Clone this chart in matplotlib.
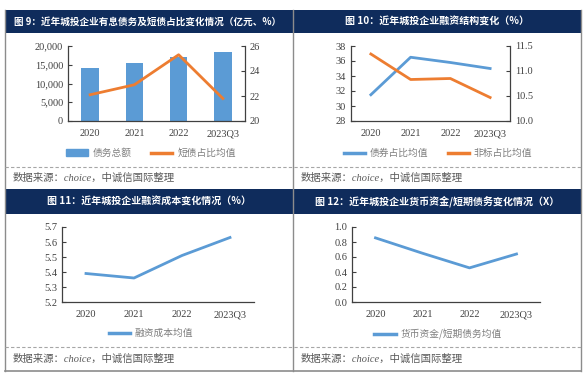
import matplotlib
matplotlib.use("Agg")
import matplotlib.pyplot as plt
from matplotlib.patches import Rectangle, Patch
from matplotlib.lines import Line2D
from matplotlib.ticker import FuncFormatter
import numpy as np
import logging
logging.getLogger("matplotlib.font_manager").setLevel(logging.ERROR)

W, H = 587, 380

categories = ["2020", "2021", "2022", "2023Q3"]
debt_total = [14200, 15400, 17000, 18400]
short_debt_ratio = [22.1, 22.9, 25.3, 21.8]
bond_ratio = [31.5, 36.5, 35.8, 35.0]
nonstd_ratio = [11.34, 10.83, 10.85, 10.47]
financing_cost = [5.39, 5.36, 5.51, 5.63]
cash_to_short = [0.855, 0.65, 0.455, 0.64]

titles = [
    "图 9：近年城投企业有息债务及短债占比变化情况（亿元、%）",
    "图 10：近年城投企业融资结构变化（%）",
    "图 11：近年城投企业融资成本变化情况（%）",
    "图 12：近年城投企业货币资金/短期债务变化情况（X）",
]
source = "数据来源：choice，中诚信国际整理"

NAVY = "#0f2c5c"
BLUE = "#5b9bd5"
ORANGE = "#ed7d31"
TXT = "#404040"
CJK = ["Noto Sans CJK SC", "DejaVu Sans"]
SERIF = ["Liberation Serif", "DejaVu Serif"]

fig = plt.figure(figsize=(W / 100, H / 100), dpi=100)
fig.patch.set_facecolor("white")

bg = fig.add_axes([0, 0, 1, 1], zorder=0)
bg.set_xlim(0, W)
bg.set_ylim(H, 0)
bg.axis("off")

# frames
bars_y = [(10, 33), (189, 214)]
for (y0, y1) in bars_y:
    bg.add_patch(Rectangle((5, y0), 576, y1 - y0, color=NAVY, lw=0))
for xx in (5, 293, 581):
    bg.plot([xx, xx], [10, 371], color="#8c8c8c", lw=1.0)
bg.plot([5, 581], [371, 371], color="#8c8c8c", lw=1.2)
for y in (167, 347):
    bg.plot([5, 581], [y, y], color="#a6a6a6", lw=0.8, ls=(0, (3, 2)))

# titles
centers = [(148, 21.5), (437, 21.5), (149, 201.5), (437, 201.5)]
sizes = [6.9, 7.2, 7.2, 7.2]
for t, (cx, cy), fs in zip(titles, centers, sizes):
    bg.text(cx, cy, t, color="white", fontsize=fs, fontweight="bold",
            family=CJK, ha="center", va="center")
for sx, sy in [(13, 178), (301, 178), (13, 359), (301, 359)]:
    bg.text(sx, sy, source, color="#595959", fontsize=7.5, style="italic",
            family=["Liberation Serif", "Noto Sans CJK SC"], ha="left", va="center")


def rect(x0, y0, x1, y1):
    return [x0 / W, 1 - y1 / H, (x1 - x0) / W, (y1 - y0) / H]


def style(ax):
    for s in ["top", "right"]:
        ax.spines[s].set_visible(False)
    for s in ["left", "bottom"]:
        ax.spines[s].set_color("#404040")
        ax.spines[s].set_linewidth(0.9)
    ax.tick_params(axis="y", direction="in", length=3, width=0.8,
                   labelsize=7.5, labelcolor=TXT, colors="#404040")
    ax.tick_params(axis="x", length=0, labelsize=7.5, labelcolor=TXT, pad=6)
    ax.set_facecolor("none")


def style_right(axr):
    for s in ["top", "left", "bottom"]:
        axr.spines[s].set_visible(False)
    axr.spines["right"].set_color("#404040")
    axr.spines["right"].set_linewidth(0.9)
    axr.tick_params(axis="y", direction="in", length=3, labelsize=7.5,
                    colors="#404040", labelcolor=TXT)


def serif_labels(*axes):
    for ax in axes:
        for lab in ax.get_xticklabels() + ax.get_yticklabels():
            lab.set_family(SERIF)
            lab.set_color(TXT)


x = np.arange(len(categories))


def setx(ax):
    ax.set_xticks(x)
    ax.set_xticklabels(categories)
    ax.set_xlim(-0.5, 3.5)


# Panel 1
ax1 = fig.add_axes(rect(68, 46, 245, 121), zorder=2)
ax1.bar(x, debt_total, width=0.4, color=BLUE)
ax1.set_ylim(0, 20000)
ax1.set_yticks([0, 5000, 10000, 15000, 20000])
ax1.yaxis.set_major_formatter(FuncFormatter(lambda v, p: f"{int(v):,}"))
setx(ax1)
style(ax1)
ax1r = ax1.twinx()
ax1r.plot(x, short_debt_ratio, color=ORANGE, lw=2)
ax1r.set_ylim(20, 26)
ax1r.set_yticks([20, 22, 24, 26])
style_right(ax1r)
serif_labels(ax1, ax1r)

# Panel 2
ax2 = fig.add_axes(rect(351, 46, 510, 121), zorder=2)
ax2.plot(x, bond_ratio, color=BLUE, lw=2)
ax2.set_ylim(28, 38)
ax2.set_yticks([28, 30, 32, 34, 36, 38])
setx(ax2)
style(ax2)
ax2r = ax2.twinx()
ax2r.plot(x, nonstd_ratio, color=ORANGE, lw=2)
ax2r.set_ylim(10.0, 11.5)
ax2r.set_yticks([10.0, 10.5, 11.0, 11.5])
ax2r.yaxis.set_major_formatter(FuncFormatter(lambda v, p: f"{v:.1f}"))
style_right(ax2r)
serif_labels(ax2, ax2r)

# Panel 3
ax3 = fig.add_axes(rect(62, 227, 254, 302), zorder=2)
ax3.plot(x, financing_cost, color=BLUE, lw=2)
ax3.set_ylim(5.2, 5.7)
ax3.set_yticks([5.2, 5.3, 5.4, 5.5, 5.6, 5.7])
ax3.yaxis.set_major_formatter(FuncFormatter(lambda v, p: f"{v:.1f}"))
setx(ax3)
style(ax3)
serif_labels(ax3)

# Panel 4
ax4 = fig.add_axes(rect(352, 227, 540, 302), zorder=2)
ax4.plot(x, cash_to_short, color=BLUE, lw=2)
ax4.set_ylim(0, 1.0)
ax4.set_yticks([0, 0.2, 0.4, 0.6, 0.8, 1.0])
ax4.yaxis.set_major_formatter(FuncFormatter(lambda v, p: f"{v:.1f}"))
setx(ax4)
style(ax4)
serif_labels(ax4)


def legend(handles, labels, cx, cy):
    lg = fig.legend(handles, labels, loc="center", bbox_to_anchor=(cx / W, 1 - cy / H),
                    frameon=False, ncol=len(handles), handlelength=2.2,
                    columnspacing=2.0, handletextpad=0.5,
                    prop={"family": CJK, "size": 7})
    for t in lg.get_texts():
        t.set_color("#7f7f7f")
    return lg


legend([Patch(color=BLUE), Line2D([], [], color=ORANGE, lw=2.5)],
       ["债务总额", "短债占比均值"], 151, 153)
legend([Line2D([], [], color=BLUE, lw=2.5), Line2D([], [], color=ORANGE, lw=2.5)],
       ["债券占比均值", "非标占比均值"], 438, 153)
legend([Line2D([], [], color=BLUE, lw=2.5)], ["融资成本均值"], 151, 333)
legend([Line2D([], [], color=BLUE, lw=2.5)], ["货币资金/短期债务均值"], 438, 334)

fig.savefig("out.png", dpi=100, facecolor="white")
